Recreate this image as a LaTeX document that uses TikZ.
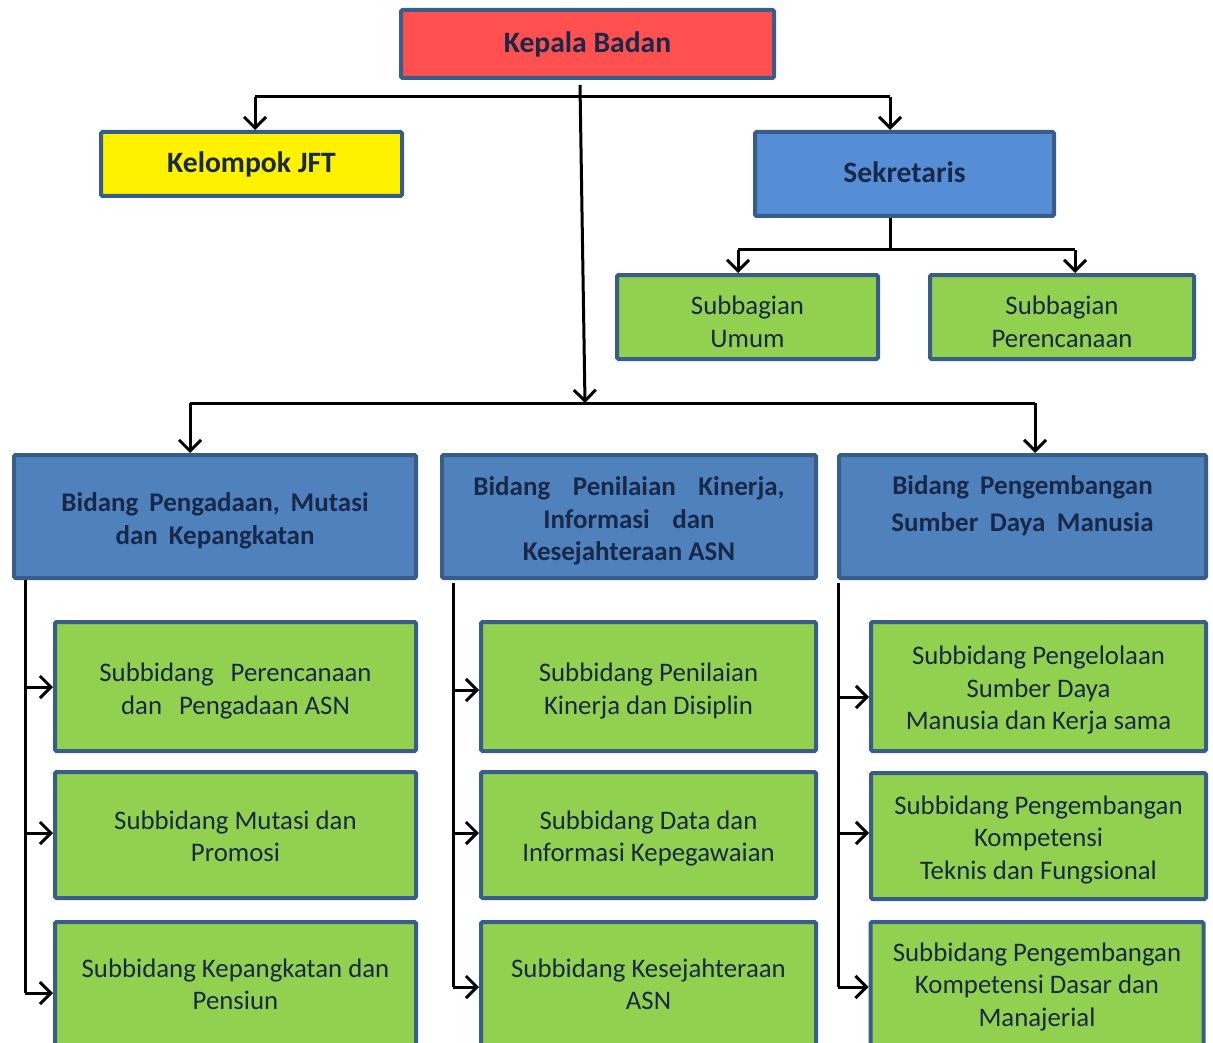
\documentclass[tikz,border=0pt]{standalone}
\usepackage{fontspec}
\setmainfont{Carlito}
\usetikzlibrary{arrows.meta}
\definecolor{txt}{RGB}{24,40,72}
\definecolor{bord}{RGB}{56,93,138}
\definecolor{redf}{RGB}{255,80,80}
\definecolor{yelf}{RGB}{255,242,0}
\definecolor{sekf}{RGB}{85,142,213}
\definecolor{bidf}{RGB}{79,129,189}
\definecolor{grnf}{RGB}{146,208,80}
\newcommand{\gapsp}[1]{\hspace{#1pt}}
\newcommand{\tx}[2]{\raisebox{#1pt}[\height][\depth]{\begin{tabular}{@{}c@{}}#2\end{tabular}}}
\begin{document}
\begin{tikzpicture}[x=1pt,y=-1pt,
  box/.style={draw=bord,line width=4pt,rounded corners=1.5pt,align=center,text=txt,
    font=\fontsize{26.8}{32.5}\selectfont,inner sep=0pt},
  head/.style={box,font=\fontsize{29.6}{34}\selectfont\bfseries},
  bid/.style={box,font=\fontsize{27}{32.5}\selectfont\bfseries},
  conn/.style={line width=3pt,black},
  arr/.style={conn,-{Straight Barb[length=11pt,width=22pt]}}]
\useasboundingbox (0,0) rectangle (1213,1043);
% top level
\node[head,fill=redf,minimum width=373pt,minimum height=68pt] (kb) at (587.5,44) {\tx{-1.5}{Kepala Badan}};
\node[head,fill=yelf,minimum width=301pt,minimum height=64pt] (jft) at (251.5,164) {\tx{-2}{Kelompok JFT}};
\node[head,fill=sekf,minimum width=299pt,minimum height=84pt] (sek) at (904.5,174) {\tx{-2}{Sekretaris}};
\node[box,fill=grnf,minimum width=261pt,minimum height=84pt] (umum) at (747.5,317) {\tx{-7.5}{Subbagian\\Umum}};
\node[box,fill=grnf,minimum width=264pt,minimum height=84pt] (pere) at (1062,317) {\tx{-7.5}{Subbagian\\Perencanaan}};
% bidang
\node[bid,fill=bidf,minimum width=402pt,minimum height=123pt] (b1) at (215,516.5)
  {\tx{-5}{Bidang\gapsp{11}Pengadaan,\gapsp{11}Mutasi\\dan\gapsp{11}Kepangkatan}};
\node[bid,fill=bidf,minimum width=374pt,minimum height=123pt] (b2) at (629,516.5)
  {\tx{-5}{Bidang\gapsp{22.5}Penilaian\gapsp{22.5}Kinerja,\\Informasi\gapsp{22.5}dan\\Kesejahteraan ASN}};
\node[bid,fill=bidf,minimum width=367pt,minimum height=123pt] (b3) at (1022.5,516.5)
  {\tx{10}{Bidang\gapsp{11}Pengembangan\\[4.5pt]Sumber\gapsp{11.5}Daya\gapsp{11.5}Manusia}};
% subbidang col 1
\node[box,fill=grnf,minimum width=361pt,minimum height=129pt] (s11) at (235.5,686.5)
  {\tx{-5}{Subbidang\gapsp{17}Perencanaan\\dan\gapsp{17}Pengadaan ASN}};
\node[box,fill=grnf,minimum width=361pt,minimum height=126pt] (s12) at (235.5,835)
  {\tx{-4}{Subbidang Mutasi dan\\Promosi}};
\node[box,fill=grnf,minimum width=361pt,minimum height=126pt] (s13) at (235.5,985)
  {\tx{-2}{Subbidang Kepangkatan dan\\Pensiun}};
% col 2
\node[box,fill=grnf,minimum width=335pt,minimum height=129pt] (s21) at (648.5,686.5)
  {\tx{-5}{Subbidang Penilaian\\Kinerja dan Disiplin}};
\node[box,fill=grnf,minimum width=335pt,minimum height=126pt] (s22) at (648.5,835)
  {\tx{-4}{Subbidang Data dan\\Informasi Kepegawaian}};
\node[box,fill=grnf,minimum width=335pt,minimum height=126pt] (s23) at (648.5,985)
  {\tx{-2}{Subbidang Kesejahteraan\\ASN}};
% col 3
\node[box,fill=grnf,minimum width=335pt,minimum height=129pt] (s31) at (1038.5,686.5)
  {\tx{-4}{Subbidang Pengelolaan\\Sumber Daya\\Manusia dan Kerja sama}};
\node[box,fill=grnf,minimum width=335pt,minimum height=126pt] (s32) at (1038.5,836)
  {\tx{-4}{Subbidang Pengembangan\\Kompetensi\\Teknis dan Fungsional}};
\node[box,fill=grnf,minimum width=333pt,minimum height=126pt] (s33) at (1037,985)
  {\tx{-2}{Subbidang Pengembangan\\Kompetensi Dasar dan\\Manajerial}};
% connectors top
\coordinate (topL) at (255,97);
\coordinate (topR) at (890,97);
\draw[conn] (topL) -- (topR);
\draw[arr] (topL) -- (topL |- jft.north);
\draw[arr] (topR) -- (topR |- sek.north);
\coordinate (kbout) at (580,85);
\coordinate (busC) at (585,403);
\draw[arr] (kbout) -- (busC);
% sekretaris
\coordinate (sekL) at (738,250);
\coordinate (sekR) at (1075,250);
\draw[conn] (sek.south -| 890,0) -- (890,250);
\draw[conn] (sekL) -- (sekR);
\draw[arr] (sekL) -- (sekL |- umum.north);
\draw[arr] (sekR) -- (sekR |- pere.north);
% bidang bus
\coordinate (busL) at (190,403);
\coordinate (busR) at (1035,403);
\draw[conn] (busL) -- (busR);
\draw[arr] (busL) -- (busL |- b1.north);
\draw[arr] (busR) -- (busR |- b3.north);
% col 1
\draw[conn] (b1.south -| 25,0) -- (25,993);
\draw[arr] (25,687) -- (s11.west |- 0,687);
\draw[arr] (25,833) -- (s12.west |- 0,833);
\draw[arr] (25,993) -- (s13.west |- 0,993);
% col 2
\draw[conn] (453,583) -- (453,987);
\draw[arr] (453,690) -- (s21.west |- 0,690);
\draw[arr] (453,833) -- (s22.west |- 0,833);
\draw[arr] (453,987) -- (s23.west |- 0,987);
% col 3
\draw[conn] (838,583) -- (838,987);
\draw[arr] (838,697) -- (s31.west |- 0,697);
\draw[arr] (838,833) -- (s32.west |- 0,833);
\draw[arr] (838,987) -- (s33.west |- 0,987);
\end{tikzpicture}
\end{document}
